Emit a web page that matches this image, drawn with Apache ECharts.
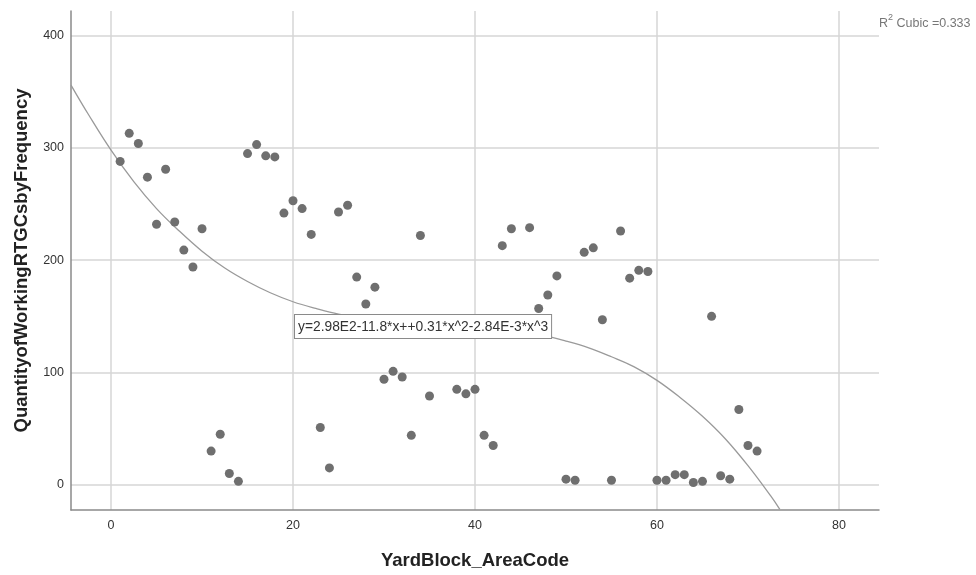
<!DOCTYPE html>
<html>
<head>
<meta charset="utf-8">
<title>YardBlock scatter</title>
<script src="https://cdn.jsdelivr.net/npm/echarts@6/dist/echarts.min.js"></script>
<style>
  html, body { margin: 0; padding: 0; background: #fff; }
  #chart { width: 976px; height: 575px; }
</style>
</head>
<body>
<div id="chart"></div>
<script>
// area codes (x) and RTGC counts (y)
const areaCodes = [1, 2, 3, 4, 5, 6, 7, 8, 9, 10,
  11, 12, 13, 14, 15, 16, 17, 18, 19, 20,
  21, 22, 23, 24, 25, 26, 27, 28, 29, 30,
  31, 32, 33, 34, 35, 38, 39, 40, 41, 42,
  43, 44, 46, 47, 48, 49, 50, 51, 52, 53,
  54, 55, 56, 57, 58, 59, 60, 61, 62, 63,
  64, 65, 66, 67, 68, 69, 70, 71];
const rtgcCounts = [288, 313, 304, 274, 232, 281, 234, 209, 194, 228,
  30, 45, 10, 3, 295, 303, 293, 292, 242, 253,
  246, 223, 51, 15, 243, 249, 185, 161, 176, 94,
  101, 96, 44, 222, 79, 85, 81, 85, 44, 35,
  213, 228, 229, 157, 169, 186, 5, 4, 207, 211,
  147, 4, 226, 184, 191, 190, 4, 4, 9, 9,
  2, 3, 150, 8, 5, 67, 35, 30];

// cubic fit line, sampled off the drawn curve
const fitX = [-4.4, -2.5, 0, 2.5, 5, 7.5, 10, 12.5, 15, 17.5, 20, 22.5, 25, 27.5, 30, 32.5,
  35, 37.5, 40, 42.5, 45, 47.5, 50, 52.5, 55, 57.5, 60, 62.5, 65, 67.5, 70, 72.5, 73.5];
const fitY = [356, 330, 298, 270, 246, 226, 208, 193, 181, 171, 163, 157, 152, 149, 146, 144,
  143, 142, 140, 138, 136, 133, 128, 122, 114, 105, 93, 78, 61, 41, 17, -10, -22];

const xTicks = [0, 20, 40, 60, 80];
const yTicks = [0, 100, 200, 300, 400];

const fitLabel = 'y=2.98E2-11.8*x++0.31*x^2-2.84E-3*x^3';
const r2Value = '0.333';

const chart = echarts.init(document.getElementById('chart'));

const option = {
  backgroundColor: '#fff',
  animation: false,
  textStyle: { fontFamily: 'Liberation Sans, Arial, sans-serif' },
  grid: { left: 71, right: 97, top: 11, bottom: 64, containLabel: false },
  xAxis: {
    type: 'value',
    min: -4.4,
    max: 84.4,
    name: 'YardBlock_AreaCode',
    nameLocation: 'middle',
    nameGap: 41,
    nameTextStyle: { fontSize: 18.5, fontWeight: 'bold', color: '#222' },
    axisLine: { show: true, onZero: false, lineStyle: { color: '#8a8a8a', width: 1.5 } },
    axisTick: { show: false },
    axisLabel: {
      color: '#333', fontSize: 12.5, margin: 9,
      showMinLabel: false, showMaxLabel: false,
      formatter: v => (xTicks.indexOf(v) >= 0 ? String(v) : '')
    },
    splitLine: {
      show: true, showMinLine: false, showMaxLine: false,
      lineStyle: { color: '#d6d6d6', width: 1.5 }
    }
  },
  yAxis: {
    type: 'value',
    min: -22.5,
    max: 422,
    name: 'QuantityofWorkingRTGCsbyFrequency',
    nameLocation: 'middle',
    nameGap: 40,
    nameTextStyle: { fontSize: 18.5, fontWeight: 'bold', color: '#222' },
    axisLine: { show: true, onZero: false, lineStyle: { color: '#8a8a8a', width: 1.5 } },
    axisTick: { show: false },
    axisLabel: {
      color: '#333', fontSize: 12.5, margin: 7,
      showMinLabel: false, showMaxLabel: false,
      formatter: v => (yTicks.indexOf(v) >= 0 ? String(v) : '')
    },
    splitLine: {
      show: true, showMinLine: false, showMaxLine: false,
      lineStyle: { color: '#d6d6d6', width: 1.5 }
    }
  },
  series: [
    {
      name: 'Cubic fit',
      type: 'line',
      data: fitX.map((x, i) => [x, fitY[i]]),
      smooth: 0.4,
      showSymbol: false,
      clip: true,
      lineStyle: { color: '#9a9a9a', width: 1.3 },
      z: 2
    },
    {
      name: 'Observed',
      type: 'scatter',
      data: areaCodes.map((x, i) => [x, rtgcCounts[i]]),
      symbolSize: 9,
      itemStyle: { color: '#6f6f6f', opacity: 1 },
      z: 3
    }
  ],
  graphic: [
    {
      type: 'text',
      left: 294,
      top: 314,
      z: 10,
      style: {
        text: fitLabel,
        fill: '#333',
        font: '13.8px Liberation Sans, Arial, sans-serif',
        backgroundColor: '#fff',
        borderColor: '#8a8a8a',
        borderWidth: 1,
        padding: [5, 3, 4, 3]
      }
    },
    {
      type: 'text',
      left: 879,
      top: 13,
      z: 10,
      style: {
        rich: {
          r: { fill: '#777', fontSize: 12.5, fontFamily: 'Liberation Sans, Arial, sans-serif', verticalAlign: 'bottom', height: 16 },
          sup: { fill: '#777', fontSize: 9, fontFamily: 'Liberation Sans, Arial, sans-serif', verticalAlign: 'top', height: 16, padding: [0, 0, 6, 0] }
        },
        text: '{r|R}{sup|2}{r| Cubic =' + r2Value + '}'
      }
    }
  ]
};

chart.setOption(option);
</script>
</body>
</html>
